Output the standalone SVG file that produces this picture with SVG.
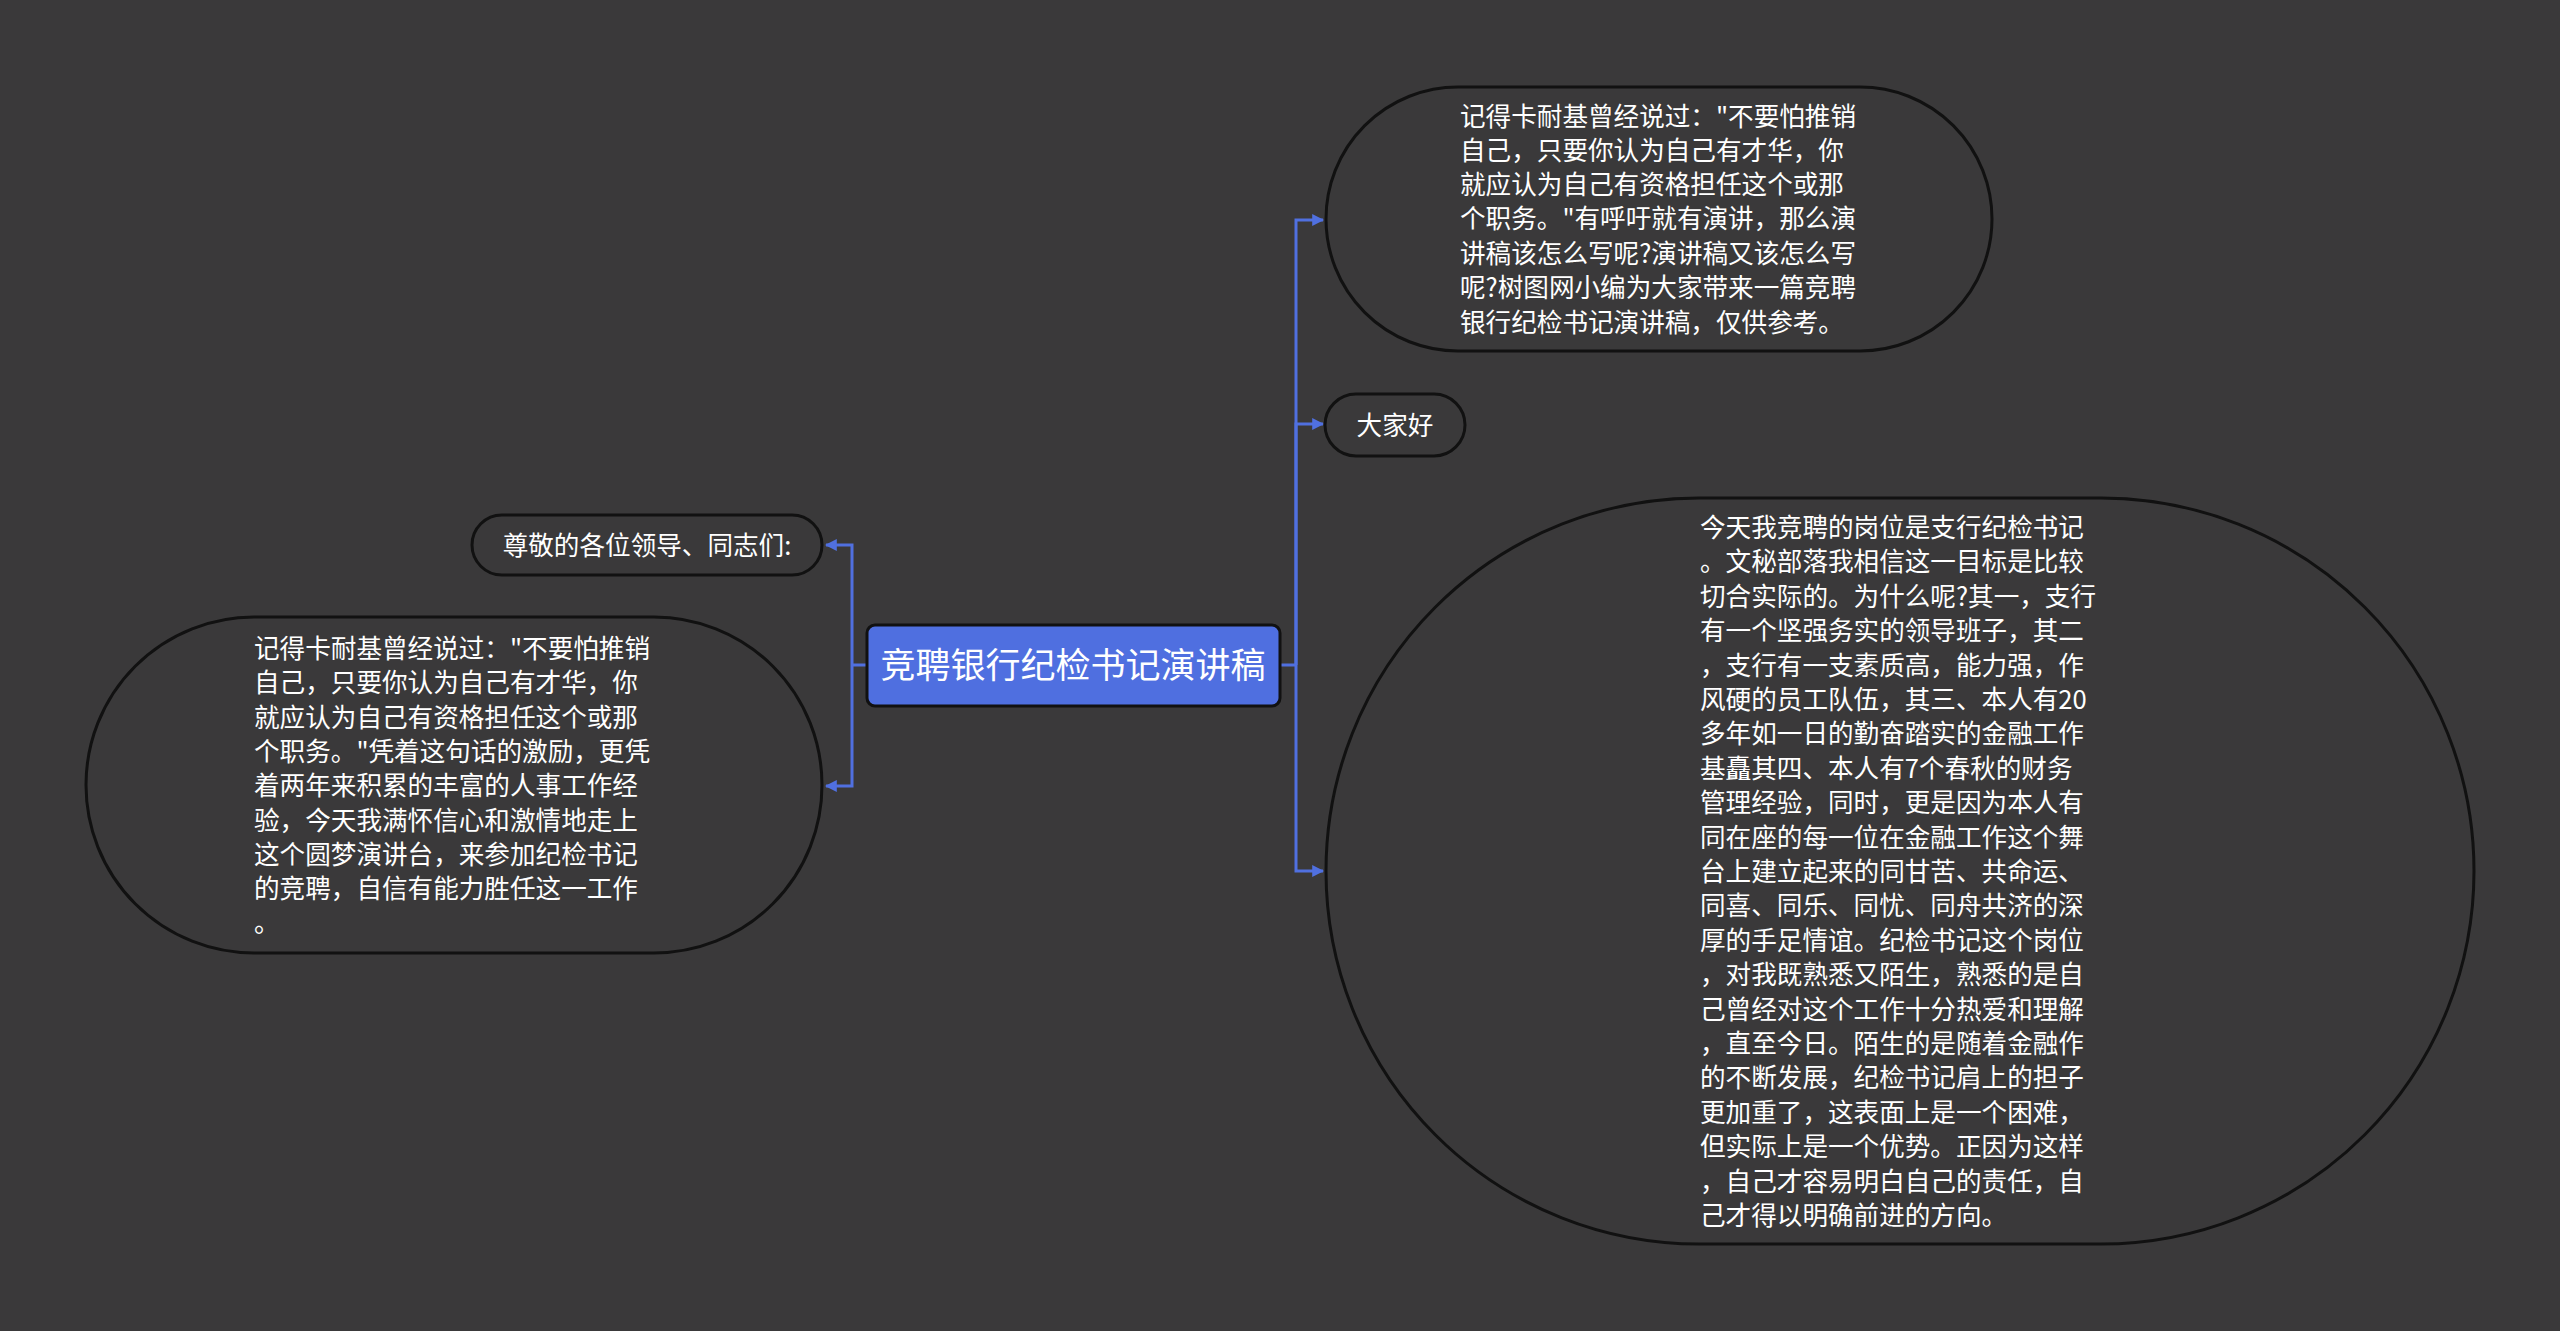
<svg xmlns="http://www.w3.org/2000/svg" width="2560" height="1331" viewBox="0 0 2560 1331">
<style>
.bg{fill:#3a393a}
.node{fill:#3a393a;stroke:#111;stroke-width:3}
.root{fill:#4f6fe0;stroke:#111;stroke-width:3}
.t{font-family:"Noto Sans CJK SC","Noto Sans",sans-serif;font-size:25.6px;fill:#ffffff}
.rt{font-family:"Noto Sans CJK SC","Noto Sans",sans-serif;font-size:35px;fill:#ffffff}
.c{fill:none;stroke:#5070e0;stroke-width:3}
</style>
<defs>
<marker id="arr" viewBox="0 0 10 10" refX="9" refY="5" markerWidth="4" markerHeight="4" markerUnits="strokeWidth" orient="auto">
<path d="M0,0 L10,5 L0,10 z" fill="#5070e0"/>
</marker>
</defs>
<rect class="bg" x="0" y="0" width="2560" height="1331"/>
<g id="connectors">
<path class="c" d="M1280,665 H1296"/>
<path class="c" d="M1296,665 V220 H1323" marker-end="url(#arr)"/>
<path class="c" d="M1296,665 V424 H1323" marker-end="url(#arr)"/>
<path class="c" d="M1296,665 V871 H1323" marker-end="url(#arr)"/>
<path class="c" d="M867,665 H852"/>
<path class="c" d="M852,665 V545 H826" marker-end="url(#arr)"/>
<path class="c" d="M852,665 V786 H826" marker-end="url(#arr)"/>
</g>
<g id="root">
<rect class="root" x="867" y="625" width="413" height="81" rx="8"/>
<text class="rt" x="1073" y="678" text-anchor="middle">竞聘银行纪检书记演讲稿</text>
</g>
<g id="n-intro">
<rect class="node" x="1326" y="87" width="666" height="264" rx="132"/>
<text class="t">
<tspan x="1460" y="126">记得卡耐基曾经说过："不要怕推销</tspan>
<tspan x="1460" y="160">自己，只要你认为自己有才华，你</tspan>
<tspan x="1460" y="194">就应认为自己有资格担任这个或那</tspan>
<tspan x="1460" y="228">个职务。"有呼吁就有演讲，那么演</tspan>
<tspan x="1460" y="263">讲稿该怎么写呢?演讲稿又该怎么写</tspan>
<tspan x="1460" y="297">呢?树图网小编为大家带来一篇竞聘</tspan>
<tspan x="1460" y="332">银行纪检书记演讲稿，仅供参考。</tspan>
</text>
</g>
<g id="n-hello">
<rect class="node" x="1325" y="394" width="140" height="62" rx="31"/>
<text class="t" x="1395" y="435" text-anchor="middle">大家好</text>
</g>
<g id="n-body">
<rect class="node" x="1326" y="498" width="1148" height="746" rx="373"/>
<text class="t">
<tspan x="1700" y="537">今天我竞聘的岗位是支行纪检书记</tspan>
<tspan x="1700" y="571.4">。文秘部落我相信这一目标是比较</tspan>
<tspan x="1700" y="605.8">切合实际的。为什么呢?其一，支行</tspan>
<tspan x="1700" y="640.2">有一个坚强务实的领导班子，其二</tspan>
<tspan x="1700" y="674.6">，支行有一支素质高，能力强，作</tspan>
<tspan x="1700" y="709">风硬的员工队伍，其三、本人有20</tspan>
<tspan x="1700" y="743.4">多年如一日的勤奋踏实的金融工作</tspan>
<tspan x="1700" y="777.8">基矗其四、本人有7个春秋的财务</tspan>
<tspan x="1700" y="812.2">管理经验，同时，更是因为本人有</tspan>
<tspan x="1700" y="846.6">同在座的每一位在金融工作这个舞</tspan>
<tspan x="1700" y="881">台上建立起来的同甘苦、共命运、</tspan>
<tspan x="1700" y="915.4">同喜、同乐、同忧、同舟共济的深</tspan>
<tspan x="1700" y="949.8">厚的手足情谊。纪检书记这个岗位</tspan>
<tspan x="1700" y="984.2">，对我既熟悉又陌生，熟悉的是自</tspan>
<tspan x="1700" y="1018.6">己曾经对这个工作十分热爱和理解</tspan>
<tspan x="1700" y="1053">，直至今日。陌生的是随着金融作</tspan>
<tspan x="1700" y="1087.4">的不断发展，纪检书记肩上的担子</tspan>
<tspan x="1700" y="1121.8">更加重了，这表面上是一个困难，</tspan>
<tspan x="1700" y="1156.2">但实际上是一个优势。正因为这样</tspan>
<tspan x="1700" y="1190.6">，自己才容易明白自己的责任，自</tspan>
<tspan x="1700" y="1225">己才得以明确前进的方向。</tspan>
</text>
</g>
<g id="n-greet">
<rect class="node" x="472" y="515" width="350" height="60" rx="30"/>
<text class="t" x="647" y="555" text-anchor="middle">尊敬的各位领导、同志们:</text>
</g>
<g id="n-left">
<rect class="node" x="86" y="617" width="736" height="336" rx="168"/>
<text class="t">
<tspan x="254" y="658">记得卡耐基曾经说过："不要怕推销</tspan>
<tspan x="254" y="692.3">自己，只要你认为自己有才华，你</tspan>
<tspan x="254" y="726.6">就应认为自己有资格担任这个或那</tspan>
<tspan x="254" y="760.9">个职务。"凭着这句话的激励，更凭</tspan>
<tspan x="254" y="795.2">着两年来积累的丰富的人事工作经</tspan>
<tspan x="254" y="829.5">验，今天我满怀信心和激情地走上</tspan>
<tspan x="254" y="863.8">这个圆梦演讲台，来参加纪检书记</tspan>
<tspan x="254" y="898.1">的竞聘，自信有能力胜任这一工作</tspan>
<tspan x="254" y="932.4">。</tspan>
</text>
</g>
</svg>
